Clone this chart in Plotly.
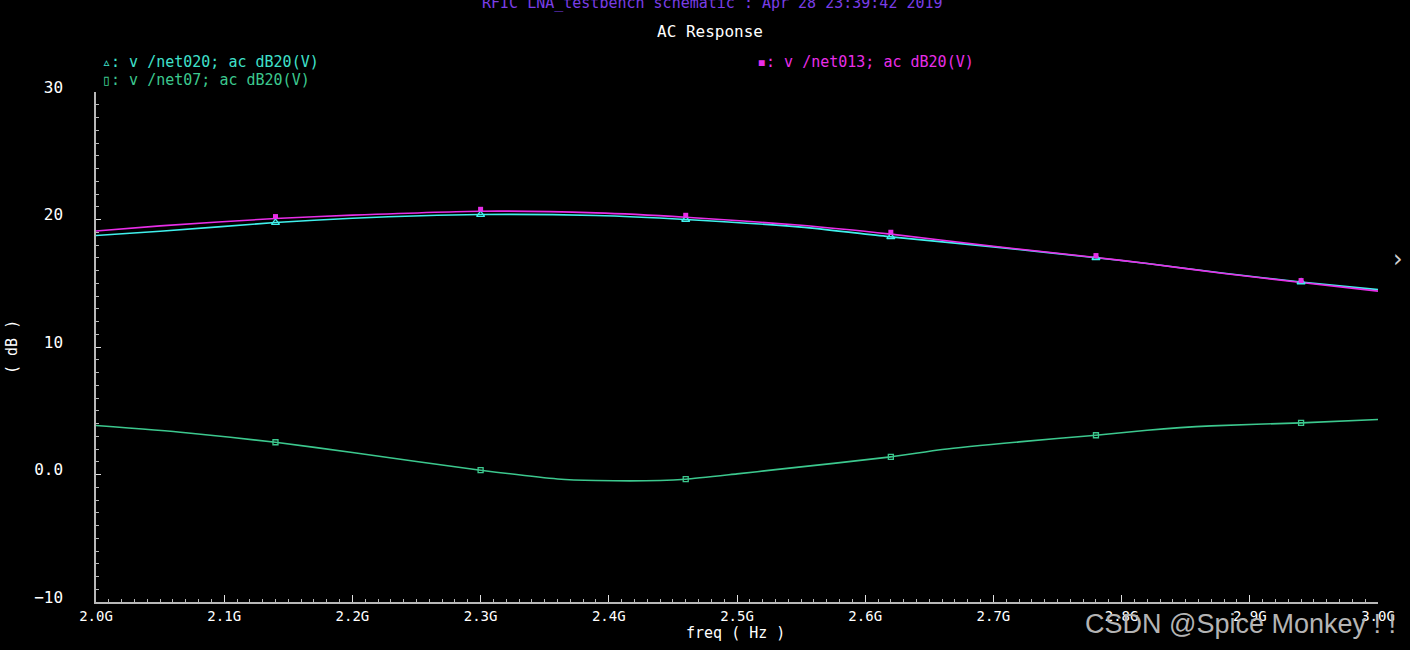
import plotly.graph_objects as go

# ---------------- data ----------------
freq_top = [2.0, 2.05, 2.14, 2.2, 2.3, 2.39, 2.46, 2.55, 2.62, 2.70, 2.78, 2.82, 2.88, 2.94, 3.0]
net013_db = [19.1, 19.5, 20.08, 20.34, 20.65, 20.52, 20.18, 19.55, 18.85, 17.9, 17.02, 16.55, 15.76, 15.06, 14.38]
net020_db = [18.75, 19.08, 19.76, 20.1, 20.39, 20.31, 20.0, 19.4, 18.64, 17.85, 17.0, 16.55, 15.78, 15.1, 14.5]

freq_low = [2.0, 2.07, 2.14, 2.2, 2.3, 2.36, 2.39, 2.44, 2.46, 2.5, 2.53, 2.62, 2.66, 2.72, 2.78, 2.82, 2.87, 2.94, 3.0]
net07_db = [3.84, 3.28, 2.53, 1.72, 0.34, -0.35, -0.47, -0.47, -0.37, 0.05, 0.38, 1.38, 1.96, 2.56, 3.08, 3.47, 3.81, 4.05, 4.31]

marker_freqs = [2.14, 2.30, 2.46, 2.62, 2.78, 2.94]

x_tickvals = [2.0, 2.1, 2.2, 2.3, 2.4, 2.5, 2.6, 2.7, 2.8, 2.9, 3.0]
x_ticktext = ["2.0G", "2.1G", "2.2G", "2.3G", "2.4G", "2.5G", "2.6G", "2.7G", "2.8G", "2.9G", "3.0G"]
y_tickvals = [-10, 0, 10, 20, 30]
y_ticktext = ["\u221210", "0.0", "10", "20", "30"]

legend_net020 = "\u25b5: v /net020; ac dB20(V)"
legend_net07 = "\u25af: v /net07; ac dB20(V)"
legend_net013 = "\u25aa: v /net013; ac dB20(V)"
title_top = "RFIC LNA_testbench schematic : Apr 28 23:39:42 2019"
title_main = "AC Response"
x_title = "freq ( Hz )"
y_title = "( dB )"
watermark = "CSDN @Spice Monkey ! !"

# ---------------- styling ----------------
W, H = 1410, 650
ML, MR, MT, MB = 96, 32, 92, 48
C_MAG = "#e82ee8"
C_CYAN = "#40f0ec"
C_GREEN = "#3cc88e"
C_AXIS = "#b8b8b8"
MONO = "DejaVu Sans Mono"


def pick(freqs, vals, sel):
    return [vals[freqs.index(f)] for f in sel]


def px(p):
    return (p - ML) / (W - ML - MR)


def py(p):
    return (H - MB - p) / (H - MT - MB)


fig = go.Figure()

fig.add_trace(go.Scatter(x=freq_low, y=net07_db, mode="lines", line=dict(color=C_GREEN, width=1.6, shape="spline", smoothing=0.6), hoverinfo="skip"))
fig.add_trace(go.Scatter(x=freq_top, y=net020_db, mode="lines", line=dict(color=C_CYAN, width=1.6, shape="spline", smoothing=0.6), hoverinfo="skip"))
fig.add_trace(go.Scatter(x=freq_top, y=net013_db, mode="lines", line=dict(color=C_MAG, width=1.6, shape="spline", smoothing=0.6), hoverinfo="skip"))

fig.add_trace(go.Scatter(x=marker_freqs, y=pick(freq_low, net07_db, marker_freqs), mode="markers",
                         marker=dict(symbol="square-open", size=5, color=C_GREEN, line=dict(width=1.3)), hoverinfo="skip"))
fig.add_trace(go.Scatter(x=marker_freqs, y=pick(freq_top, net020_db, marker_freqs), mode="markers",
                         marker=dict(symbol="triangle-up-open", size=7, color=C_CYAN, line=dict(width=1.3)), hoverinfo="skip"))
fig.add_trace(go.Scatter(x=marker_freqs, y=[v + 0.15 for v in pick(freq_top, net013_db, marker_freqs)], mode="markers",
                         marker=dict(symbol="square", size=5, color=C_MAG), hoverinfo="skip"))

fig.update_layout(
    width=W, height=H,
    margin=dict(l=ML, r=MR, t=MT, b=MB, pad=0),
    paper_bgcolor="black", plot_bgcolor="black",
    showlegend=False,
    font=dict(family=MONO, color="white", size=14),
)

fig.update_xaxes(
    range=[2.0, 3.0], showgrid=False, zeroline=False,
    showline=True, linecolor=C_AXIS, linewidth=1.5,
    tickmode="array", tickvals=x_tickvals, ticktext=x_ticktext,
    ticks="inside", ticklen=7, tickwidth=1.3, tickcolor="#e0e0e0",
    tickfont=dict(family=MONO, size=14, color="white"),
    minor=dict(dtick=0.01, ticks="inside", ticklen=3, tickwidth=1, tickcolor=C_AXIS),
    ticklabelstandoff=0,
)
fig.update_yaxes(
    range=[-10, 30], showgrid=False, zeroline=False,
    showline=True, linecolor=C_AXIS, linewidth=1.5,
    tickmode="array", tickvals=y_tickvals, ticktext=y_ticktext,
    ticks="inside", ticklen=5, tickwidth=1.3, tickcolor="#e0e0e0",
    tickfont=dict(family=MONO, size=16, color="white"),
    minor=dict(dtick=1, ticks="inside", ticklen=3, tickwidth=1, tickcolor=C_AXIS),
    ticklabelstandoff=28, ticklabelshift=-5,
)

ann = [
    dict(text=title_top, x=px(712), y=py(3), xanchor="center", yanchor="middle", font=dict(family=MONO, size=15, color="#7a3ee6")),
    dict(text=title_main, x=px(710), y=py(32), xanchor="center", yanchor="middle", font=dict(family=MONO, size=16, color="white")),
    dict(text=legend_net020, x=px(100), y=py(62), xanchor="left", yanchor="middle", font=dict(family=MONO, size=15, color="#3fe0cc")),
    dict(text=legend_net07, x=px(100), y=py(80), xanchor="left", yanchor="middle", font=dict(family=MONO, size=15, color=C_GREEN)),
    dict(text=legend_net013, x=px(755), y=py(62), xanchor="left", yanchor="middle", font=dict(family=MONO, size=15, color=C_MAG)),
    dict(text=x_title, x=px(735), y=py(633), xanchor="center", yanchor="middle", font=dict(family=MONO, size=15, color="white")),
    dict(text=y_title, x=px(12), y=py(347), xanchor="center", yanchor="middle", textangle=-90, font=dict(family=MONO, size=15, color="white")),
    dict(text=watermark, x=px(1398), y=py(624), xanchor="right", yanchor="middle", font=dict(family="Liberation Sans", size=27, color="#b4b4b4")),
    dict(text="\u203a", x=px(1398), y=py(259), xanchor="center", yanchor="middle", font=dict(family="DejaVu Sans", size=24, color="#d0d0d0")),
]
for a in ann:
    a.update(xref="paper", yref="paper", showarrow=False)
fig.update_layout(annotations=ann)

fig.write_html("out.html", config={"displayModeBar": False})

# remove the browser's default page margin so the figure fills the window
with open("out.html", "r", encoding="utf-8") as f:
    html = f.read()
html = html.replace("<head>", "<head><style>html,body{margin:0;padding:0;background:#000;overflow:hidden;}</style>", 1)
with open("out.html", "w", encoding="utf-8") as f:
    f.write(html)
